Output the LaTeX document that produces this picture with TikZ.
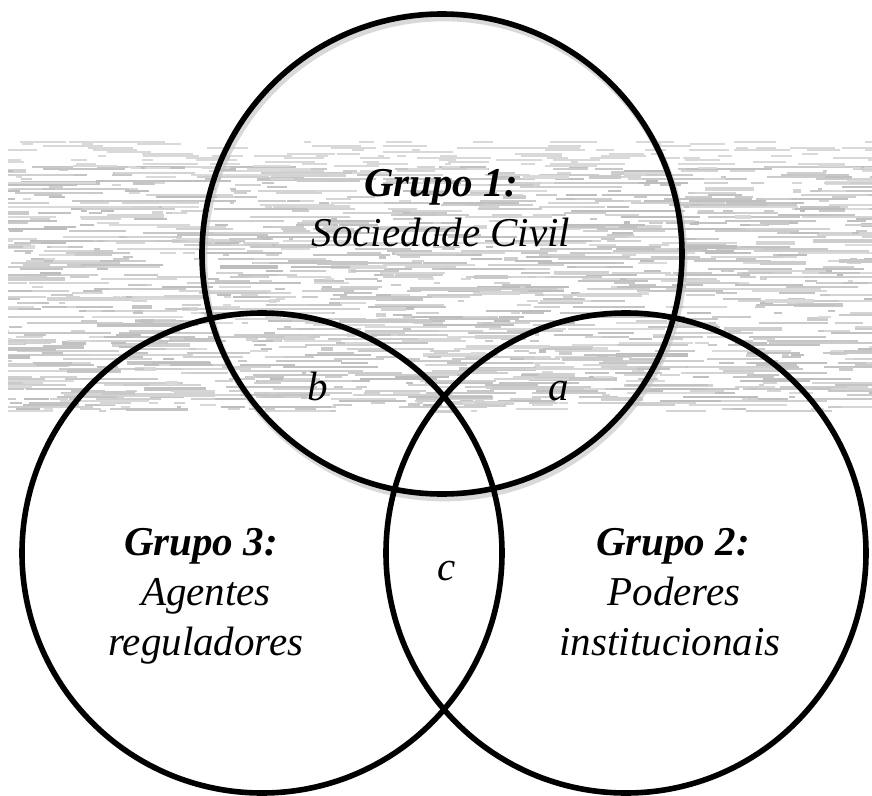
\documentclass[tikz,border=0pt]{standalone}
\usepackage{fontspec}
\setmainfont{Liberation Serif}
\begin{document}
\begin{tikzpicture}[x=0.75pt,y=-0.75pt]
\useasboundingbox (0,0) rectangle (872,796);
\tikzset{
  venn/.style={circle, draw=black, line width=4.2pt, minimum size=360pt, inner sep=0pt},
  vshadow/.style={circle, draw=black!25, line width=5pt, opacity=0.6, minimum size=360pt, inner sep=0pt},
  lbl/.style={anchor=base, inner sep=0pt, font=\fontsize{30.75pt}{37.5pt}\selectfont\itshape},
  head/.style={anchor=base, inner sep=0pt, font=\fontsize{30.75pt}{37.5pt}\selectfont\bfseries\itshape},
  streak/.style={draw=black!20},
  faint/.style={draw=black!15, line width=1.2pt}
}
% textured band
\begin{scope}
  \clip (8,140) rectangle (872,412);
  \pgfmathsetseed{11}
  \foreach \i in {1,...,1700}{
    \pgfmathsetmacro\xa{920*rnd-50}
    \pgfmathsetmacro\ya{167+2*random(0,122)}
    \pgfmathsetmacro\len{4+90*rnd^2+10*rnd}
    \pgfmathsetmacro\lw{0.8+1.6*rnd}
    \pgfmathsetmacro\gr{14+12*rnd}
    \draw[streak, draw=black!\gr, line width=\lw pt] (\xa,\ya) -- ++(\len,0);
  }
  \foreach \i in {1,...,160}{
    \pgfmathsetmacro\xa{920*rnd-50}
    \pgfmathsetmacro\ya{142+2*random(0,13)}
    \pgfmathsetmacro\len{5+45*rnd}
    \draw[faint] (\xa,\ya) -- ++(\len,0);
  }
\end{scope}
% circles
\node[vshadow] (g1s) at (444,258) {};
\node[venn] (g1) at (442,254) {};
\node[venn] (g3) at (262,553) {};
\node[venn] (g2) at (626,553) {};
% texts
\node[head] (t1a) at (441,196) {Grupo 1:};
\node[lbl]  (t1b) at (441,246) {Sociedade Civil};
\node[head] (t3a) at (201,555) {Grupo 3:};
\node[lbl]  (t3b) at (206,605) {Agentes};
\node[lbl]  (t3c) at (206,655) {reguladores};
\node[head] (t2a) at (673,555) {Grupo 2:};
\node[lbl]  (t2b) at (674,605) {Poderes};
\node[lbl]  (t2c) at (670,655) {institucionais};
\node[lbl] (lb) at (318,400) {b};
\node[lbl] (la) at (559,400) {a};
\node[lbl] (lc) at (447,580) {c};
\end{tikzpicture}
\end{document}
